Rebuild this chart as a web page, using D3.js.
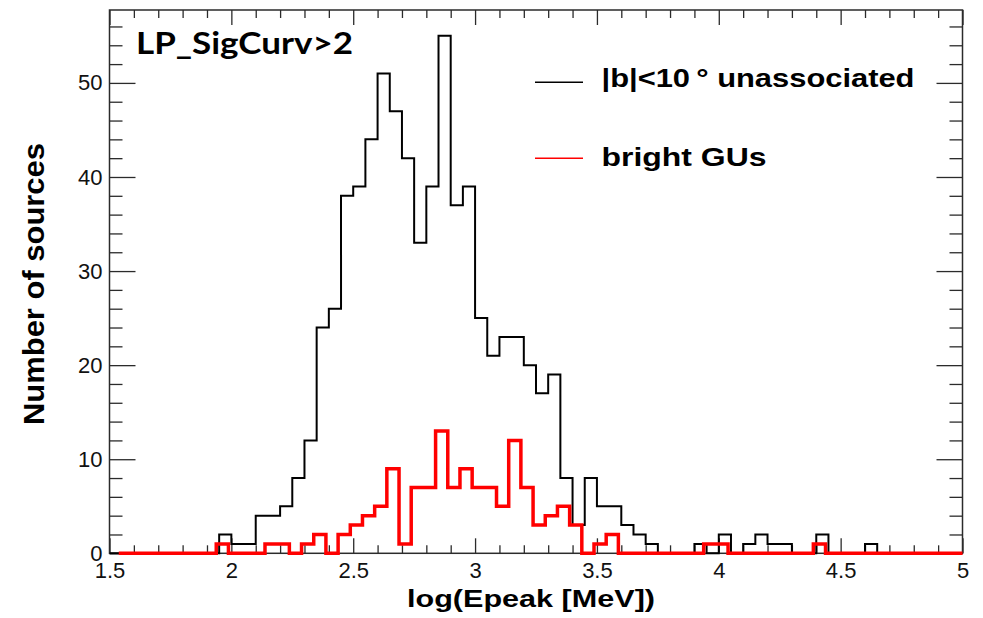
<!DOCTYPE html>
<html>
<head>
<meta charset="utf-8">
<script src="https://cdn.jsdelivr.net/npm/d3@7/dist/d3.min.js"></script>
<style>
  html, body { margin: 0; padding: 0; background: #ffffff; }
  svg { display: block; }
</style>
</head>
<body>
<svg id="chart" width="983" height="618"></svg>
<script>
// Histogram binning (log10 of Epeak in MeV)
const binWidth = 0.05;
const unassocStart = 1.5;   // first lower edge, |b|<10 deg unassociated
const brightStart = 1.538;  // first lower edge, bright GUs

// Counts per bin, |b|<10 deg unassociated sources
const unassocCounts = [
  0, 0, 0, 0, 0, 0, 0, 0, 0, 2,
  1, 1, 4, 4, 5, 8, 12, 24, 26, 38,
  39, 44, 51, 47, 42, 33, 39, 55, 37, 39,
  25, 21, 23, 23, 20, 17, 19, 8, 3, 8,
  5, 5, 3, 2, 1, 0, 0, 0, 1, 0,
  2, 0, 1, 2, 1, 1, 0, 0, 2, 0,
  0, 0, 1, 0, 0, 0, 0, 0, 0, 0
];

// Counts per bin, bright GUs
const brightCounts = [
  0, 0, 0, 0, 0, 0, 0, 0, 1, 0,
  0, 0, 1, 1, 0, 1, 2, 0, 2, 3,
  4, 5, 9, 1, 7, 7, 13, 7, 9, 7,
  7, 5, 12, 7, 3, 4, 5, 3, 0, 1,
  2, 0, 0, 0, 0, 0, 0, 0, 1, 1,
  0, 0, 0, 0, 0, 0, 0, 1, 0, 0,
  0, 0, 0, 0, 0, 0, 0, 0, 0, 0
];

// Axis ranges and tick values
const xDomain = [1.5, 5];
const yDomain = [0, 57.75];
const xMajorTicks = [1.5, 2, 2.5, 3, 3.5, 4, 4.5, 5];
const xTickLabels = ["1.5", "2", "2.5", "3", "3.5", "4", "4.5", "5"];
const yMajorTicks = [0, 10, 20, 30, 40, 50];
const yTickLabels = ["0", "10", "20", "30", "40", "50"];

const seriesNames = ["|b|<10\u2009\u00B0 unassociated", "bright GUs"];
const plotTitle = "LP_SigCurv>2";
const xTitle = "log(Epeak [MeV])";
const yTitle = "Number of sources";

// ---- layout ----
const frame = { left: 109.5, right: 962.5, top: 10, bottom: 553.3 };
const axisColor = "#2b2b2b";
const fontSans = "'Liberation Sans', Arial, Helvetica, sans-serif";

const svg = d3.select("#chart");

const x = d3.scaleLinear().domain(xDomain).range([frame.left, frame.right]);
const y = d3.scaleLinear().domain(yDomain).range([frame.bottom, frame.top]);

// minor tick positions
const xMinorTicks = d3.range(15, 51).map(d => d / 10).filter(d => !xMajorTicks.some(m => Math.abs(m - d) < 1e-9));
const yMinorTicks = d3.range(0, 58, 2).filter(d => d % 10 !== 0);

function styleAxis(g) {
  g.select(".domain").remove();
  g.selectAll(".tick line").attr("stroke", axisColor).attr("stroke-width", 1.3);
}

// bottom axis: major ticks with labels
svg.append("g")
  .attr("transform", `translate(0,${frame.bottom})`)
  .call(d3.axisBottom(x).tickValues(xMajorTicks).tickSize(-15).tickPadding(9)
    .tickFormat((d, i) => xTickLabels[i]))
  .call(styleAxis)
  .call(g => g.selectAll("text")
    .attr("fill", "#111").style("font-family", fontSans).style("font-size", "22px"));

svg.append("g")
  .attr("transform", `translate(0,${frame.bottom})`)
  .call(d3.axisBottom(x).tickValues(xMinorTicks).tickSize(-8).tickFormat(""))
  .call(styleAxis);

// top axis (ticks only)
svg.append("g")
  .attr("transform", `translate(0,${frame.top})`)
  .call(d3.axisTop(x).tickValues(xMajorTicks).tickSize(-15).tickFormat(""))
  .call(styleAxis);
svg.append("g")
  .attr("transform", `translate(0,${frame.top})`)
  .call(d3.axisTop(x).tickValues(xMinorTicks).tickSize(-8).tickFormat(""))
  .call(styleAxis);

// left axis with labels
svg.append("g")
  .attr("transform", `translate(${frame.left},0)`)
  .call(d3.axisLeft(y).tickValues(yMajorTicks).tickSize(-26).tickPadding(7)
    .tickFormat((d, i) => yTickLabels[i]))
  .call(styleAxis)
  .call(g => g.selectAll("text")
    .attr("fill", "#111").style("font-family", fontSans).style("font-size", "22px"));
svg.append("g")
  .attr("transform", `translate(${frame.left},0)`)
  .call(d3.axisLeft(y).tickValues(yMinorTicks).tickSize(-13).tickFormat(""))
  .call(styleAxis);

// right axis (ticks only)
svg.append("g")
  .attr("transform", `translate(${frame.right},0)`)
  .call(d3.axisRight(y).tickValues(yMajorTicks).tickSize(-26).tickFormat(""))
  .call(styleAxis);
svg.append("g")
  .attr("transform", `translate(${frame.right},0)`)
  .call(d3.axisRight(y).tickValues(yMinorTicks).tickSize(-13).tickFormat(""))
  .call(styleAxis);

// frame
svg.append("rect")
  .attr("x", frame.left).attr("y", frame.top)
  .attr("width", frame.right - frame.left).attr("height", frame.bottom - frame.top)
  .attr("fill", "none").attr("stroke", axisColor).attr("stroke-width", 1.5);

// clip for histograms
svg.append("clipPath").attr("id", "plot-clip")
  .append("rect")
  .attr("x", frame.left).attr("y", frame.top - 2)
  .attr("width", frame.right - frame.left).attr("height", frame.bottom - frame.top + 4);

// step outline for a histogram
function stepPoints(start, counts) {
  const pts = counts.map((c, i) => [start + i * binWidth, c]);
  pts.push([start + counts.length * binWidth, counts[counts.length - 1]]);
  return pts;
}
const stepLine = d3.line()
  .x(d => x(d[0]))
  .y(d => y(d[1]))
  .curve(d3.curveStepAfter);

const histG = svg.append("g").attr("clip-path", "url(#plot-clip)");

histG.append("path")
  .datum(stepPoints(unassocStart, unassocCounts))
  .attr("d", stepLine)
  .attr("fill", "none")
  .attr("stroke", "#000")
  .attr("stroke-width", 2);

histG.append("path")
  .datum(stepPoints(brightStart, brightCounts))
  .attr("d", stepLine)
  .attr("fill", "none")
  .attr("stroke", "#ff0000")
  .attr("stroke-width", 3.5);

// legend
const legend = [
  { name: seriesNames[0], color: "#000", ly: 82.3, ty: 87.3, len: 313 },
  { name: seriesNames[1], color: "#ff0000", ly: 158.3, ty: 165.5, len: 165 }
];
const lg = svg.append("g");
legend.forEach(d => {
  lg.append("line")
    .attr("x1", 535).attr("x2", 583)
    .attr("y1", d.ly).attr("y2", d.ly)
    .attr("stroke", d.color).attr("stroke-width", 1.6);
  lg.append("text")
    .attr("x", 601.5).attr("y", d.ty)
    .attr("textLength", d.len).attr("lengthAdjust", "spacingAndGlyphs")
    .style("font-family", fontSans).style("font-weight", "bold").style("font-size", "25px")
    .attr("fill", "#000")
    .text(d.name);
});

// title inside the frame
svg.append("text")
  .attr("x", 136).attr("y", 53.5)
  .attr("textLength", 217).attr("lengthAdjust", "spacingAndGlyphs")
  .style("font-family", "Lato, 'Open Sans', sans-serif").style("font-weight", "bold").style("font-size", "31px")
  .attr("fill", "#000")
  .text(plotTitle);

// axis titles
svg.append("text")
  .attr("x", 531).attr("y", 607)
  .attr("text-anchor", "middle")
  .attr("textLength", 248).attr("lengthAdjust", "spacingAndGlyphs")
  .style("font-family", fontSans).style("font-weight", "bold").style("font-size", "24px")
  .attr("fill", "#000")
  .text(xTitle);

svg.append("text")
  .attr("transform", "translate(44,284) rotate(-90)")
  .attr("text-anchor", "middle")
  .attr("textLength", 282).attr("lengthAdjust", "spacingAndGlyphs")
  .style("font-family", fontSans).style("font-weight", "bold").style("font-size", "30px")
  .attr("fill", "#000")
  .text(yTitle);
</script>
</body>
</html>
